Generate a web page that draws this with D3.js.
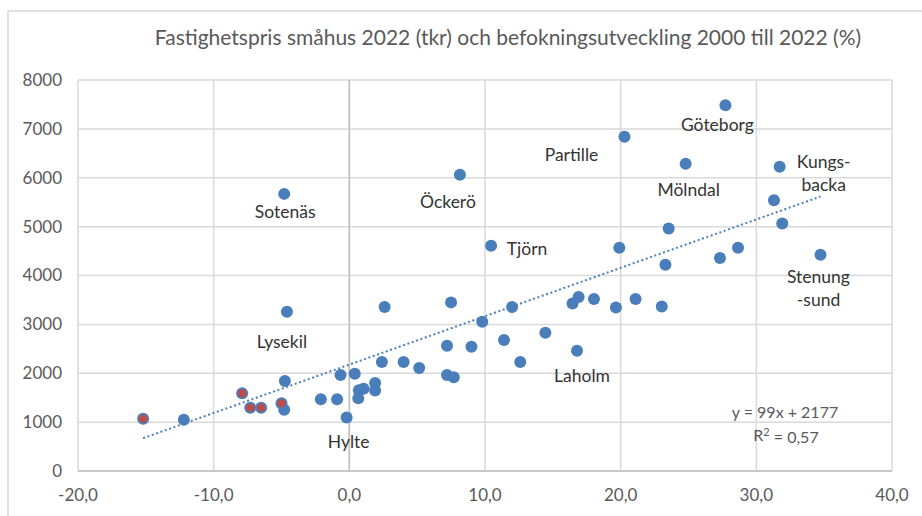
<!DOCTYPE html>
<meta charset="utf-8">
<style>
body { margin: 0; background: #fff; }
svg { display: block; font-family: Lato, "Open Sans", sans-serif; }
.grid line { stroke: #d9d9d9; stroke-width: 1.5; }
.axis-line { stroke: #bfbfbf; stroke-width: 1.5; }
.tick-label { fill: #595959; font-size: 17px; }
.title { fill: #595959; font-size: 21px; text-anchor: middle; }
.label { fill: #333; font-size: 17.5px; text-anchor: middle; }
.eq { fill: #595959; font-size: 16px; text-anchor: middle; }
</style>
<svg width="922" height="516"></svg>
<script src="https://cdn.jsdelivr.net/npm/d3@7"></script>
<script>

// befolkningsutveckling 2000-2022 (%), småhuspris 2022 (tkr)
var growth = [-15.2, -12.2, -7.9, -7.3, -6.5, -5.0, -4.8, -4.75, -4.6, -4.8,
              -2.1, -0.9, -0.65, 0.4, -0.2, 0.66, 0.7, 1.05, 1.9, 1.9,
              2.4, 2.6, 4.0, 5.15, 7.2, 7.2, 7.7, 7.5, 8.15, 9.0,
              9.8, 10.45, 11.4, 12.0, 12.6, 14.45, 16.45, 16.9, 16.78, 18.03,
              19.65, 19.9, 20.28, 21.1, 23.03, 23.3, 23.54, 24.79, 27.32, 27.72,
              28.65, 31.3, 31.72, 31.91, 34.73];
var price = [1070, 1050, 1590, 1295, 1295, 1384, 1254, 1840, 3260, 5670,
             1466, 1466, 1963, 1990, 1095, 1486, 1650, 1683, 1800, 1645,
             2229, 3354, 2229, 2106, 2563, 1963, 1916, 3450, 6060, 2542,
             3054, 4610, 2679, 3354, 2229, 2829, 3429, 3560, 2461, 3517,
             3345, 4567, 6837, 3517, 3368, 4219, 4963, 6285, 4356, 7485,
             4567, 5542, 6223, 5065, 4424];
// index of points drawn with the red marker on top
var redPoints = [0, 2, 3, 4, 5];
// named municipalities (index into the arrays above)
var names = [
  {i: 9, lines: ["Sotenäs"]},
  {i: 8, lines: ["Lysekil"]},
  {i: 14, lines: ["Hylte"]},
  {i: 28, lines: ["Öckerö"]},
  {i: 31, lines: ["Tjörn"]},
  {i: 38, lines: ["Laholm"]},
  {i: 42, lines: ["Partille"]},
  {i: 49, lines: ["Göteborg"]},
  {i: 47, lines: ["Mölndal"]},
  {i: 52, lines: ["Kungs-", "backa"]},
  {i: 54, lines: ["Stenung", "-sund"]}
];
var xTicks = [-20, -10, 0, 10, 20, 30, 40];
var yTicks = [0, 1000, 2000, 3000, 4000, 5000, 6000, 7000, 8000];
var slope = 99, intercept = 2177, r2 = "0,57";
var title = "Fastighetspris småhus 2022 (tkr) och befokningsutveckling 2000 till 2022 (%)";

var svg = d3.select("svg");

// chart border (runs past the right/bottom edge as in the screenshot)
svg.append("rect")
    .attr("x", 8).attr("y", 11)
    .attr("width", 940).attr("height", 540)
    .attr("fill", "none")
    .attr("stroke", "#d9d9d9")
    .attr("stroke-width", 1.5);

var pLeft = 78, pRight = 892, pTop = 80, pBottom = 471;

var x = d3.scaleLinear().domain([-20, 40]).range([pLeft, pRight]),
    y = d3.scaleLinear().domain([0, 8000]).range([pBottom, pTop]);

svg.append("text")
    .attr("class", "title")
    .attr("x", 508)
    .attr("y", 45)
    .text(title);

var grid = svg.append("g").attr("class", "grid");

grid.selectAll(".h")
    .data(yTicks)
  .enter().append("line")
    .attr("x1", pLeft).attr("x2", pRight)
    .attr("y1", function(d) { return y(d); })
    .attr("y2", function(d) { return y(d); });

grid.selectAll(".v")
    .data(xTicks)
  .enter().append("line")
    .attr("y1", pTop).attr("y2", pBottom)
    .attr("x1", function(d) { return x(d); })
    .attr("x2", function(d) { return x(d); });

// axis lines at x = 0 and y = 0
svg.append("line").attr("class", "axis-line")
    .attr("x1", x(0)).attr("x2", x(0)).attr("y1", pTop).attr("y2", pBottom);
svg.append("line").attr("class", "axis-line")
    .attr("x1", pLeft).attr("x2", pRight).attr("y1", y(0)).attr("y2", y(0));

var fmtX = function(d) { return d3.format(".1f")(d).replace("−", "-").replace(".", ","); };

svg.selectAll(".ytick")
    .data(yTicks)
  .enter().append("text")
    .attr("class", "tick-label")
    .attr("x", pLeft - 16)
    .attr("y", function(d) { return y(d); })
    .attr("dy", "0.35em")
    .attr("text-anchor", "end")
    .text(function(d) { return d; });

svg.selectAll(".xtick")
    .data(xTicks)
  .enter().append("text")
    .attr("class", "tick-label")
    .attr("x", function(d) { return x(d); })
    .attr("y", 495)
    .attr("dy", "0.35em")
    .attr("text-anchor", "middle")
    .text(fmtX);

var points = growth.map(function(g, i) { return {x: g, y: price[i], i: i}; });

svg.append("g").selectAll("circle")
    .data(points)
  .enter().append("circle")
    .attr("cx", function(d) { return x(d.x); })
    .attr("cy", function(d) { return y(d.y); })
    .attr("r", 6)
    .attr("fill", "#4a7ebb");

svg.append("g").selectAll("circle")
    .data(redPoints.map(function(i) { return points[i]; }))
  .enter().append("circle")
    .attr("cx", function(d) { return x(d.x); })
    .attr("cy", function(d) { return y(d.y); })
    .attr("r", 4)
    .attr("fill", "#be4b48");

// linear trendline
var xExt = d3.extent(growth);
svg.append("line")
    .attr("x1", x(xExt[0])).attr("y1", y(slope * xExt[0] + intercept))
    .attr("x2", x(xExt[1])).attr("y2", y(slope * xExt[1] + intercept))
    .attr("stroke", "#4a7ebb")
    .attr("stroke-width", 2)
    .attr("stroke-dasharray", "2,2.6");

// label offsets from the point, in pixels
var offsets = {
  "Sotenäs": [1, 18], "Lysekil": [-5, 30], "Hylte": [2, 24], "Öckerö": [-12, 27],
  "Tjörn": [36, 3], "Laholm": [5, 25], "Partille": [-53, 18], "Göteborg": [-8, 20],
  "Mölndal": [3, 26], "Kungs-": [44, -5], "Stenung": [-2, 22]
};

names.forEach(function(n) {
  var p = points[n.i], o = offsets[n.lines[0]];
  var t = svg.append("text")
      .attr("class", "label")
      .attr("x", x(p.x) + o[0])
      .attr("y", y(p.y) + o[1]);
  n.lines.forEach(function(line, k) {
    t.append("tspan")
        .attr("x", x(p.x) + o[0])
        .attr("dy", k === 0 ? "0.35em" : "1.3em")
        .text(line);
  });
});

svg.append("text")
    .attr("class", "eq")
    .attr("x", 785).attr("y", 412).attr("dy", "0.35em")
    .text("y = " + slope + "x + " + intercept);

var r = svg.append("text")
    .attr("class", "eq")
    .attr("x", 786).attr("y", 435).attr("dy", "0.35em");
r.append("tspan").text("R");
r.append("tspan").attr("dy", "-0.4em").attr("font-size", "11px").text("2");
r.append("tspan").attr("dy", "0.4em").text(" = " + r2);

</script>
